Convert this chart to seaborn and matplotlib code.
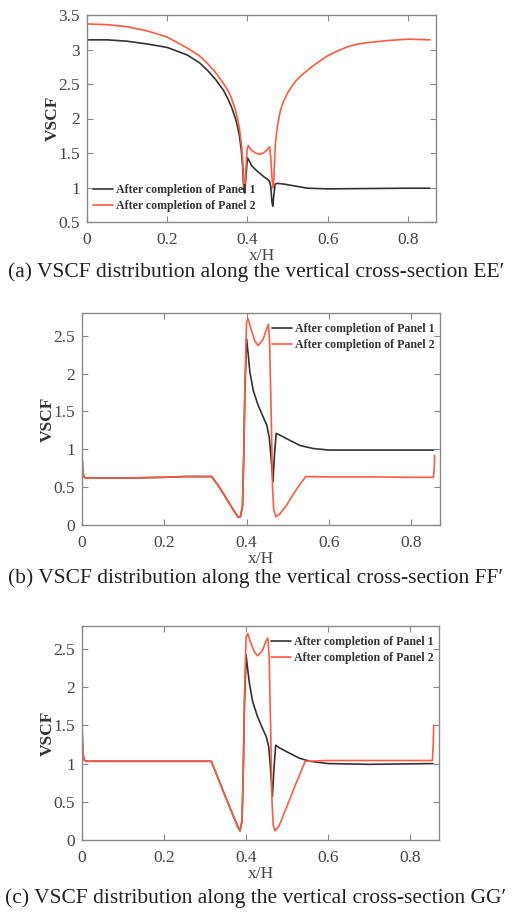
import numpy as np
import pandas as pd
import seaborn as sns
import matplotlib
matplotlib.use("Agg")
import matplotlib.pyplot as plt

# ---------------- data ----------------
# Panel (a) EE'
a_p1_x = [0, 0.05, 0.1, 0.15, 0.2, 0.25, 0.28, 0.30, 0.32, 0.34, 0.35, 0.36, 0.37, 0.375, 0.38,
          0.385, 0.388, 0.391, 0.393, 0.396, 0.400, 0.405, 0.41, 0.42, 0.43, 0.44, 0.45, 0.455,
          0.458, 0.461, 0.463, 0.466, 0.469, 0.475, 0.49, 0.50, 0.52, 0.55, 0.6, 0.7, 0.8, 0.855]
a_p1_y = [3.14, 3.14, 3.12, 3.08, 3.03, 2.92, 2.81, 2.70, 2.57, 2.41, 2.30, 2.17, 2.00, 1.89, 1.75,
          1.52, 1.30, 0.95, 0.92, 1.15, 1.43, 1.38, 1.32, 1.26, 1.21, 1.16, 1.12, 1.09,
          1.02, 0.80, 0.73, 0.90, 1.05, 1.06, 1.05, 1.04, 1.02, 0.99, 0.98, 0.985, 0.99, 0.99]
a_p2_x = [0, 0.05, 0.1, 0.15, 0.2, 0.25, 0.28, 0.30, 0.32, 0.34, 0.35, 0.36, 0.37, 0.375, 0.38,
          0.385, 0.388, 0.391, 0.393, 0.396, 0.399, 0.402, 0.405, 0.41, 0.42, 0.43, 0.44, 0.45,
          0.455, 0.458, 0.461, 0.464, 0.466, 0.468, 0.47, 0.475, 0.48, 0.485, 0.49, 0.50, 0.51,
          0.52, 0.535, 0.55, 0.565, 0.58, 0.60, 0.625, 0.65, 0.675, 0.70, 0.75, 0.80, 0.855]
a_p2_y = [3.37, 3.36, 3.33, 3.27, 3.18, 3.02, 2.91, 2.80, 2.67, 2.51, 2.42, 2.30, 2.12, 2.00, 1.86,
          1.62, 1.38, 1.05, 0.99, 1.25, 1.55, 1.61, 1.58, 1.54, 1.50, 1.48, 1.50, 1.55,
          1.59, 1.45, 1.15, 0.99, 1.15, 1.45, 1.66, 1.90, 2.06, 2.17, 2.25, 2.37, 2.46,
          2.54, 2.63, 2.70, 2.77, 2.83, 2.91, 2.98, 3.04, 3.08, 3.10, 3.13, 3.15, 3.14]

# Panel (b) FF'
b_p1_x = [0, 0.002, 0.005, 0.01, 0.1, 0.2, 0.25, 0.315, 0.33, 0.35, 0.37, 0.38, 0.385, 0.39,
          0.393, 0.396, 0.400, 0.404, 0.408, 0.416, 0.428, 0.44, 0.449, 0.455, 0.459, 0.464,
          0.468, 0.472, 0.48, 0.497, 0.53, 0.562, 0.60, 0.70, 0.855]
b_p1_y = [0.92, 0.70, 0.63, 0.62, 0.62, 0.63, 0.64, 0.64, 0.53, 0.36, 0.18, 0.10, 0.11, 0.25,
          0.90, 1.80, 2.46, 2.25, 2.02, 1.78, 1.58, 1.43, 1.32, 1.16, 0.92, 0.57,
          0.95, 1.21, 1.19, 1.14, 1.05, 1.01, 0.99, 0.99, 0.99]
b_p2_x = [0, 0.002, 0.005, 0.01, 0.1, 0.2, 0.25, 0.315, 0.33, 0.35, 0.37, 0.38, 0.385, 0.39,
          0.393, 0.396, 0.400, 0.404, 0.41, 0.42, 0.428, 0.44, 0.448, 0.453, 0.456, 0.46, 0.463,
          0.466, 0.471, 0.48, 0.497, 0.515, 0.53, 0.544, 0.60, 0.70, 0.80, 0.854, 0.856, 0.857]
b_p2_y = [0.92, 0.70, 0.63, 0.62, 0.62, 0.63, 0.64, 0.64, 0.53, 0.36, 0.18, 0.10, 0.11, 0.25,
          0.90, 1.90, 2.68, 2.72, 2.60, 2.43, 2.37, 2.45, 2.58, 2.65, 2.40, 1.40, 0.50,
          0.20, 0.11, 0.14, 0.26, 0.42, 0.54, 0.64, 0.635, 0.635, 0.63, 0.63, 0.75, 0.92]

# Panel (c) GG'
c_p1_x = [0, 0.002, 0.005, 0.01, 0.1, 0.2, 0.315, 0.33, 0.35, 0.37, 0.38, 0.385, 0.39,
          0.393, 0.396, 0.400, 0.404, 0.408, 0.416, 0.428, 0.44, 0.449, 0.455, 0.459, 0.464,
          0.468, 0.472, 0.48, 0.497, 0.53, 0.555, 0.60, 0.70, 0.855]
c_p1_y = [1.50, 1.15, 1.05, 1.03, 1.03, 1.03, 1.03, 0.83, 0.56, 0.30, 0.17, 0.12, 0.25,
          0.90, 1.80, 2.42, 2.22, 2.05, 1.81, 1.61, 1.46, 1.35, 1.22, 0.96, 0.57,
          0.95, 1.24, 1.21, 1.16, 1.07, 1.03, 1.00, 0.99, 1.00]
c_p2_x = [0, 0.002, 0.005, 0.01, 0.1, 0.2, 0.315, 0.33, 0.35, 0.37, 0.38, 0.385, 0.39,
          0.393, 0.396, 0.400, 0.404, 0.41, 0.42, 0.428, 0.44, 0.448, 0.453, 0.456, 0.46, 0.463,
          0.466, 0.470, 0.48, 0.50, 0.52, 0.544, 0.60, 0.70, 0.80, 0.854, 0.856, 0.857]
c_p2_y = [1.50, 1.15, 1.05, 1.03, 1.03, 1.03, 1.03, 0.83, 0.56, 0.30, 0.17, 0.12, 0.25,
          0.90, 1.90, 2.66, 2.70, 2.60, 2.46, 2.41, 2.48, 2.60, 2.64, 2.40, 1.40, 0.50,
          0.20, 0.12, 0.18, 0.45, 0.72, 1.03, 1.04, 1.04, 1.04, 1.04, 1.25, 1.50]

series_labels = ["After completion of Panel 1", "After completion of Panel 2"]
captions = ["(a) VSCF distribution along the vertical cross-section EE\u2032",
            "(b) VSCF distribution along the vertical cross-section FF\u2032",
            "(c) VSCF distribution along the vertical cross-section GG\u2032"]
x_ticks = [0, 0.2, 0.4, 0.6, 0.8]
x_ticklabels = ["0", "0.2", "0.4", "0.6", "0.8"]
a_yticks = [0.5, 1, 1.5, 2, 2.5, 3, 3.5]
bc_yticks = [0, 0.5, 1, 1.5, 2, 2.5]

# ---------------- style ----------------
sns.set_style("ticks")
plt.rcParams['font.family'] = ['Liberation Serif', 'DejaVu Serif']

BLACK = "#333333"
RED = "#ff5a44"
GRAY = "#8a8a8a"
TICKC = "#444444"

fig = plt.figure(figsize=(5.12, 9.14), dpi=100)

axes_pos = [
    [87/512, 1-222/914, (436-87)/512, (222-15)/914],
    [82/512, 1-525/914, (440-82)/512, (525-313)/914],
    [82/512, 1-840/914, (439-82)/512, (840-626)/914],
]
data = [
    (a_p1_x, a_p1_y, a_p2_x, a_p2_y, (0.5, 3.5), a_yticks, "lower left"),
    (b_p1_x, b_p1_y, b_p2_x, b_p2_y, (0, 2.8), bc_yticks, "upper right"),
    (c_p1_x, c_p1_y, c_p2_x, c_p2_y, (0, 2.8), bc_yticks, "upper right"),
]
caption_y = [272, 578, 898]

for i, (pos, d) in enumerate(zip(axes_pos, data)):
    x1, y1, x2, y2, ylim, yt, loc = d
    ax = fig.add_axes(pos)
    df1 = pd.DataFrame({"x": x1, "y": y1})
    df2 = pd.DataFrame({"x": x2, "y": y2})
    sns.lineplot(data=df1, x="x", y="y", ax=ax, color=BLACK, lw=1.2,
                 label=series_labels[0], sort=False, estimator=None)
    sns.lineplot(data=df2, x="x", y="y", ax=ax, color=RED, lw=1.2,
                 label=series_labels[1], sort=False, estimator=None)
    ax.set_xlim(0, 0.87)
    ax.set_ylim(*ylim)
    ax.set_xticks(x_ticks)
    ax.set_xticklabels(x_ticklabels)
    ax.set_yticks(yt)
    ax.set_yticklabels([("%g" % v) for v in yt])
    ax.tick_params(direction="in", top=True, right=True, length=4, width=0.8,
                   color=GRAY, labelcolor=TICKC, labelsize=12.5)
    ax.tick_params(axis="x", pad=7)
    ax.tick_params(axis="y", pad=5)
    for s in ax.spines.values():
        s.set_color(GRAY)
        s.set_linewidth(1.0)
    ax.set_xlabel("x/H", fontsize=12.5, color=TICKC, labelpad=0)
    ax.set_ylabel("VSCF", fontsize=12.5, color="#333333", fontweight="bold", labelpad=-1.5)
    if loc == "lower left":
        leg = ax.legend(loc="lower left", frameon=False, fontsize=8.6, handlelength=1.7,
                        handletextpad=0.2, borderaxespad=0.1, labelspacing=0.35,
                        bbox_to_anchor=(0.0, 0.02))
    else:
        leg = ax.legend(loc="upper right", frameon=False, fontsize=8.6, handlelength=1.7,
                        handletextpad=0.2, borderaxespad=0.1, labelspacing=0.35,
                        bbox_to_anchor=(1.0, 0.98))
    for t in leg.get_texts():
        t.set_color("#333333")
        t.set_fontweight("bold")
    fig.text(0.5, 1 - caption_y[i]/914, captions[i], ha="center", va="center",
             fontsize=15.5, color="#222222")

fig.savefig("out.png", dpi=100)
